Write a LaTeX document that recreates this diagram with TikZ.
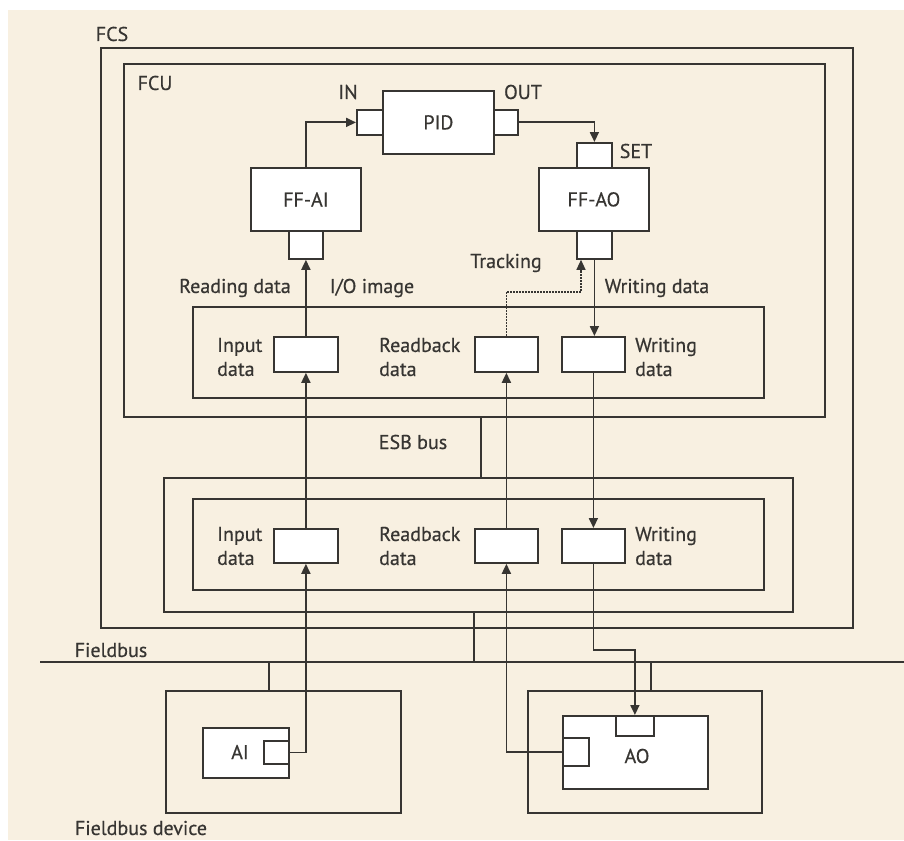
\documentclass[tikz,border=0pt]{standalone}
\usepackage{fontspec}
\setmainfont{PT Sans}
\newfontfamily\lblfont{PT Sans}[FakeBold=0.5]
\usetikzlibrary{arrows.meta}
\definecolor{bg}{RGB}{248,240,225}
\definecolor{ink}{RGB}{55,53,50}
\begin{document}
\begin{tikzpicture}[x=1pt,y=-1pt,
  every node/.style={font=\lblfont\fontsize{20}{24}\selectfont, text=ink},
  frame/.style={draw=ink, line width=1.8pt, inner sep=0pt, anchor=north west},
  wbox/.style={frame, fill=white},
  lbl/.style={inner sep=0pt},
  two/.style={inner sep=0pt, anchor=west, align=left},
  conn/.style={draw=ink, line width=1.8pt},
  arr/.style={conn, -{Triangle[length=10pt,width=9pt]}},
  dots/.style={draw=ink, line width=1.2pt, dash pattern=on 1.6pt off 1.4pt},
]
\useasboundingbox (0,0) rectangle (904,840);
\fill[white] (0,0) rectangle (904,840);
\fill[bg] (8,10) rectangle (904,840);

% containers
\node[frame, minimum width=752pt, minimum height=580pt] (fcs) at (100,47) {};
\node[frame, minimum width=701pt, minimum height=353pt] (fcu) at (123,63) {};
\node[frame, minimum width=571pt, minimum height=91pt] (uio) at (192,306) {};
\node[frame, minimum width=629pt, minimum height=134pt] (lowout) at (163,477) {};
\node[frame, minimum width=571pt, minimum height=91pt] (lowin) at (192,498) {};
\node[frame, minimum width=235pt, minimum height=122pt] (aidev) at (165,690) {};
\node[frame, minimum width=234pt, minimum height=122pt] (aodev) at (527,690) {};

% function blocks
\node[wbox, minimum width=111pt, minimum height=63pt] (pid) at (382,90) {PID};
\node[wbox, minimum width=26pt, minimum height=25pt] (inport) at (356,109) {};
\node[wbox, minimum width=24pt, minimum height=25pt] (outport) at (493,109) {};
\node[wbox, minimum width=35pt, minimum height=25pt] (setport) at (576,142) {};
\node[wbox, minimum width=110pt, minimum height=63pt] (ffao) at (538,167) {FF-AO};
\node[wbox, minimum width=35pt, minimum height=28pt] (aoport) at (576,230) {};
\node[wbox, minimum width=110pt, minimum height=63pt] (ffai) at (250,167) {FF-AI};
\node[wbox, minimum width=34pt, minimum height=28pt] (aiport) at (288,230) {};

% data boxes
\node[wbox, minimum width=64pt, minimum height=35pt] (uin) at (273,336) {};
\node[wbox, minimum width=63pt, minimum height=35pt] (urb) at (474,336) {};
\node[wbox, minimum width=63pt, minimum height=35pt] (uwr) at (561,336) {};
\node[wbox, minimum width=64pt, minimum height=34pt] (lin) at (273,528) {};
\node[wbox, minimum width=63pt, minimum height=34pt] (lrb) at (474,528) {};
\node[wbox, minimum width=63pt, minimum height=34pt] (lwr) at (561,528) {};

% field devices
\node[wbox, minimum width=86pt, minimum height=50pt] (ai) at (202,727) {};
\node[lbl] (ait) at (240,752) {AI};
\node[wbox, minimum width=25pt, minimum height=23pt] (aiout) at (263,740) {};
\node[wbox, minimum width=145pt, minimum height=73pt] (ao) at (562,715) {};
\node[lbl] (aot) at (637,756) {AO};
\node[wbox, minimum width=38pt, minimum height=20pt] (aotop) at (615,715) {};
\node[wbox, minimum width=26pt, minimum height=28pt] (aoleft) at (562,737) {};

% labels
\node[lbl] (lfcs) at (112,34) {FCS};
\node[lbl] (lfcu) at (155,83) {FCU};
\node[lbl] (lin_) at (348,92) {IN};
\node[lbl] (lout) at (523,92) {OUT};
\node[lbl] (lset) at (636,151) {SET};
\node[lbl] (ltrk) at (506,263) {Tracking};
\node[lbl] (lrd) at (235,288) {Reading data};
\node[lbl] (lio) at (372,288) {I/O image};
\node[lbl] (lwd) at (657,288) {Writing data};
\node[lbl] (lesb) at (413,442) {ESB bus};
\node[lbl] (lfb) at (111,650) {Fieldbus};
\node[lbl] (lfd) at (141,828) {Fieldbus device};
\node[two] (t1) at (217,357) {Input\\data};
\node[two] (t2) at (379,357) {Readback\\data};
\node[two] (t3) at (635,357) {Writing\\data};
\node[two] (t4) at (217,546) {Input\\data};
\node[two] (t5) at (379,546) {Readback\\data};
\node[two] (t6) at (635,546) {Writing\\data};

% buses
\coordinate (fbL) at (40,662);
\coordinate (fbR) at (904,662);
\draw[conn] (fbL) -- (fbR);
\coordinate (esb) at (481,0);
\draw[conn] (fcu.south -| esb) -- (lowout.north -| esb);
\coordinate (s1) at (474,0);
\draw[conn] (lowout.south -| s1) -- (fbL -| s1);
\coordinate (s2) at (269,0);
\draw[conn] (fbL -| s2) -- (aidev.north -| s2);
\coordinate (s3) at (651,0);
\draw[conn] (fbL -| s3) -- (aodev.north -| s3);

% signal flow
\draw[arr] (ffai.north) |- (inport.west);
\draw[arr] (outport.east) -| (setport.north);
\draw[arr] (uin.north) -- (aiport.south);
\coordinate (trk) at (581,292);
\draw[dots, -{Triangle[length=10pt,width=9pt]}] (urb.north) |- (trk) -- (aoport.south -| trk);
\draw[arr] (aoport.south) -- (aoport.south |- uwr.north);
\draw[arr] (lin.north) -- (uin.south);
\draw[arr] (lrb.north) -- (urb.south);
\draw[arr] (uwr.south) -- (lwr.north);
\draw[arr] (aiout.east) -| (lin.south);
\draw[arr] (aoleft.west) -| (lrb.south);
\coordinate (wb) at (0,650);
\draw[arr] (lwr.south) -- (lwr.south |- wb) -| (aotop.north);
\end{tikzpicture}
\end{document}
